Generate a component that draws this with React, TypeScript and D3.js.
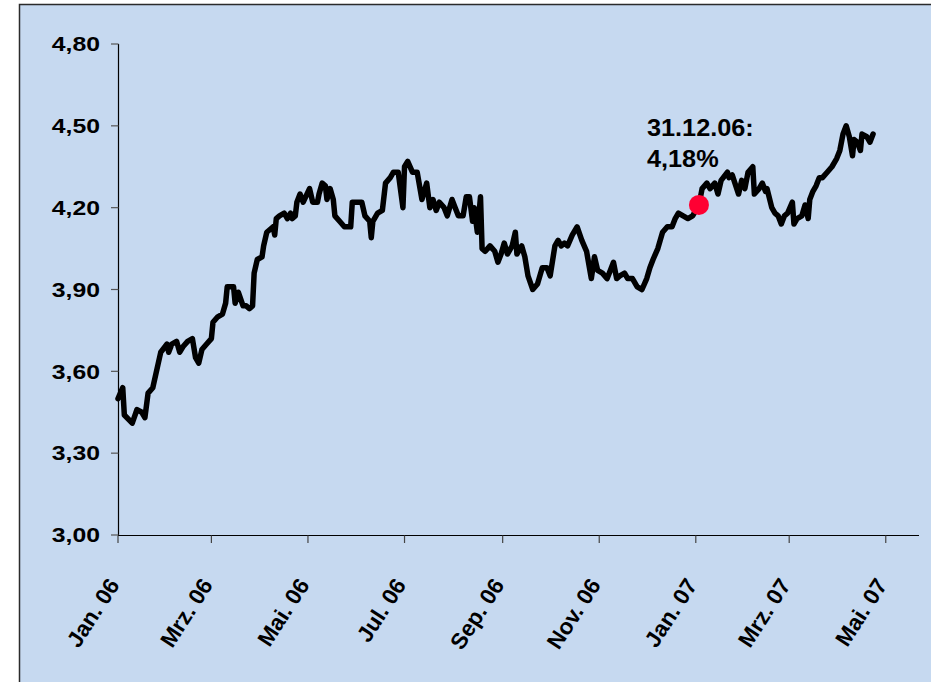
import { useEffect, useRef } from "react";
import * as d3 from "d3";

// days since 1 Jan 2006
const dayOffsets = [
  0, 3, 4, 9, 12, 15, 17, 19, 22, 27, 31, 32, 34, 37, 39, 41, 44, 47, 49, 51, 53, 56, 59, 60, 63, 66, 68, 69, 73, 74,
  76, 79, 81, 83, 85, 86, 88, 91, 92, 94, 98, 99, 100, 102, 105, 107, 109, 110, 112, 113, 115, 117, 121, 123, 126,
  127, 129, 131, 132, 134, 136, 137, 140, 143, 147, 148, 152, 154, 156, 159, 160, 161, 164, 167, 169, 172, 174, 177,
  180, 181, 183, 186, 189, 192, 195, 197, 199, 201, 203, 206, 208, 211, 213, 215, 218, 220, 222, 224, 225, 227, 229,
  230, 232, 235, 238, 240, 242, 244, 246, 249, 251, 252, 255, 257, 259, 262, 265, 268, 271, 273, 276, 278, 280, 282,
  284, 287, 290, 293, 296, 299, 301, 303, 306, 309, 311, 313, 315, 317, 320, 322, 325, 328, 331, 334, 336, 338, 341,
  344, 347, 350, 352, 354, 357, 360, 363, 367, 369, 372, 374, 377, 379, 381, 385, 386, 388, 392, 394, 396, 398, 401,
  402, 405, 407, 409, 410, 413, 415, 417, 419, 421, 423, 426, 427, 429, 432, 434, 436, 437, 439, 441, 443, 445, 448,
  451, 454, 456, 458, 460, 462, 464, 465, 467, 469, 470, 473, 475, 477,
];

const yields = [
  3.5, 3.54, 3.44, 3.41, 3.46, 3.45, 3.43, 3.52, 3.54, 3.67, 3.7, 3.67, 3.7, 3.71, 3.67, 3.69, 3.71, 3.72, 3.65, 3.63,
  3.68, 3.7, 3.72, 3.78, 3.8, 3.81, 3.85, 3.91, 3.91, 3.85, 3.89, 3.84, 3.84, 3.83, 3.84, 3.96, 4.01, 4.02, 4.06, 4.11,
  4.13, 4.1, 4.16, 4.17, 4.18, 4.16, 4.18, 4.16, 4.17, 4.22, 4.25, 4.22, 4.27, 4.22, 4.22, 4.25, 4.29, 4.28, 4.23, 4.27,
  4.23, 4.17, 4.15, 4.13, 4.13, 4.22, 4.22, 4.22, 4.17, 4.15, 4.09, 4.15, 4.18, 4.19, 4.29, 4.31, 4.33, 4.33, 4.2, 4.35,
  4.37, 4.33, 4.33, 4.23, 4.29, 4.2, 4.23, 4.19, 4.22, 4.2, 4.17, 4.23, 4.2, 4.17, 4.17, 4.24, 4.24, 4.15, 4.2, 4.11,
  4.24, 4.05, 4.04, 4.06, 4.04, 4.0, 4.03, 4.07, 4.03, 4.06, 4.11, 4.03, 4.06, 4.02, 3.95, 3.9, 3.92, 3.98, 3.98, 3.95,
  4.06, 4.08, 4.06, 4.07, 4.06, 4.1, 4.13, 4.08, 4.04, 3.94, 4.02, 3.97, 3.96, 3.94, 3.97, 4.0, 3.94, 3.95, 3.96, 3.94,
  3.94, 3.91, 3.9, 3.94, 3.98, 4.01, 4.05, 4.11, 4.13, 4.13, 4.16, 4.18, 4.17, 4.16, 4.17, 4.21, 4.27, 4.29, 4.27, 4.29,
  4.25, 4.3, 4.33, 4.31, 4.32, 4.25, 4.3, 4.27, 4.33, 4.35, 4.25, 4.27, 4.29, 4.26, 4.27, 4.2, 4.18, 4.17, 4.14, 4.17,
  4.18, 4.22, 4.14, 4.16, 4.17, 4.21, 4.16, 4.23, 4.26, 4.28, 4.31, 4.31, 4.33, 4.35, 4.38, 4.41, 4.47, 4.5, 4.46, 4.39,
  4.45, 4.44, 4.41, 4.47, 4.46, 4.44, 4.47,
];

const yTicks = [3.0, 3.3, 3.6, 3.9, 4.2, 4.5, 4.8];
const xTickDates = [
  new Date(2006, 0, 1),
  new Date(2006, 2, 1),
  new Date(2006, 4, 1),
  new Date(2006, 6, 1),
  new Date(2006, 8, 1),
  new Date(2006, 10, 1),
  new Date(2007, 0, 1),
  new Date(2007, 2, 1),
  new Date(2007, 4, 1),
];
const xTickLabels = ["Jan. 06", "Mrz. 06", "Mai. 06", "Jul. 06", "Sep. 06", "Nov. 06", "Jan. 07", "Mrz. 07", "Mai. 07"];

const highlightDay = 367;
const highlightValue = 4.21;
const highlightLabel = ["31.12.06:", "4,18%"];

const W = 931;
const H = 682;
const FONT = "Arial, 'Liberation Sans', sans-serif";

function dayToDate(d: number) {
  return new Date(2006, 0, 1 + d);
}

export default function App() {
  const svgRef = useRef<SVGSVGElement>(null);

  useEffect(() => {
    if (!svgRef.current) return;
    const svg = d3.select(svgRef.current);
    svg.selectAll("*").remove();

    const x = d3
      .scaleTime()
      .domain([new Date(2006, 0, 1), new Date(2007, 4, 22)])
      .range([118, 919]);
    const y = d3.scaleLinear().domain([3, 4.8]).range([535, 44]);

    // chart frame
    svg
      .append("rect")
      .attr("x", 19.5)
      .attr("y", 4.5)
      .attr("width", W)
      .attr("height", H + 10)
      .attr("fill", "#c6d9f0")
      .attr("stroke", "#2b2b2b")
      .attr("stroke-width", 1.5);

    // y axis
    const yAxis = svg.append("g");
    yAxis
      .append("line")
      .attr("x1", 118.5)
      .attr("x2", 118.5)
      .attr("y1", y(4.8))
      .attr("y2", y(3))
      .attr("stroke", "#000")
      .attr("stroke-width", 1.2);
    yTicks.forEach((t) => {
      yAxis
        .append("line")
        .attr("x1", 111)
        .attr("x2", 118.5)
        .attr("y1", y(t))
        .attr("y2", y(t))
        .attr("stroke", "#555")
        .attr("stroke-width", 1.2);
      yAxis
        .append("text")
        .attr("transform", `translate(100,${y(t)}) scale(1.18,1)`)
        .attr("text-anchor", "end")
        .attr("dominant-baseline", "central")
        .attr("font-family", FONT)
        .attr("font-weight", "bold")
        .attr("font-size", 21)
        .attr("fill", "#000")
        .text(d3.format(".2f")(t).replace(".", ","));
    });

    // x axis
    const xAxis = svg.append("g");
    xAxis
      .append("line")
      .attr("x1", 118)
      .attr("x2", 919)
      .attr("y1", 535.5)
      .attr("y2", 535.5)
      .attr("stroke", "#000")
      .attr("stroke-width", 1.2);
    xTickDates.forEach((d, i) => {
      const px = x(d);
      xAxis
        .append("line")
        .attr("x1", px)
        .attr("x2", px)
        .attr("y1", 535.5)
        .attr("y2", 543)
        .attr("stroke", "#444")
        .attr("stroke-width", 1.2);
      xAxis
        .append("text")
        .attr("transform", `translate(${px - 4},581) rotate(-57)`)
        .attr("text-anchor", "end")
        .attr("dominant-baseline", "central")
        .attr("font-family", FONT)
        .attr("font-weight", "bold")
        .attr("font-size", 22.5)
        .attr("fill", "#000")
        .text(xTickLabels[i]);
    });

    // series
    const points = dayOffsets.map((d, i) => ({ date: dayToDate(d), value: yields[i] }));
    const line = d3
      .line<{ date: Date; value: number }>()
      .x((p) => x(p.date))
      .y((p) => y(p.value));
    svg
      .append("path")
      .attr("d", line(points))
      .attr("fill", "none")
      .attr("stroke", "#000")
      .attr("stroke-width", 5.5)
      .attr("stroke-linejoin", "round")
      .attr("stroke-linecap", "round");

    // highlight
    const hx = x(dayToDate(highlightDay));
    const hy = y(highlightValue);
    svg.append("circle").attr("cx", hx).attr("cy", hy).attr("r", 10).attr("fill", "#ff0033");
    highlightLabel.forEach((s, i) => {
      svg
        .append("text")
        .attr("transform", `translate(${hx - 52},${hy - 69 + i * 31}) scale(1.1,1)`)
        .attr("font-family", FONT)
        .attr("font-weight", "bold")
        .attr("font-size", 23)
        .attr("fill", "#000")
        .text(s);
    });
  }, []);

  return (
    <div style={{ position: "absolute", left: 0, top: 0 }}>
      <svg ref={svgRef} width={W} height={H} style={{ display: "block", background: "#fff" }} />
    </div>
  );
}
